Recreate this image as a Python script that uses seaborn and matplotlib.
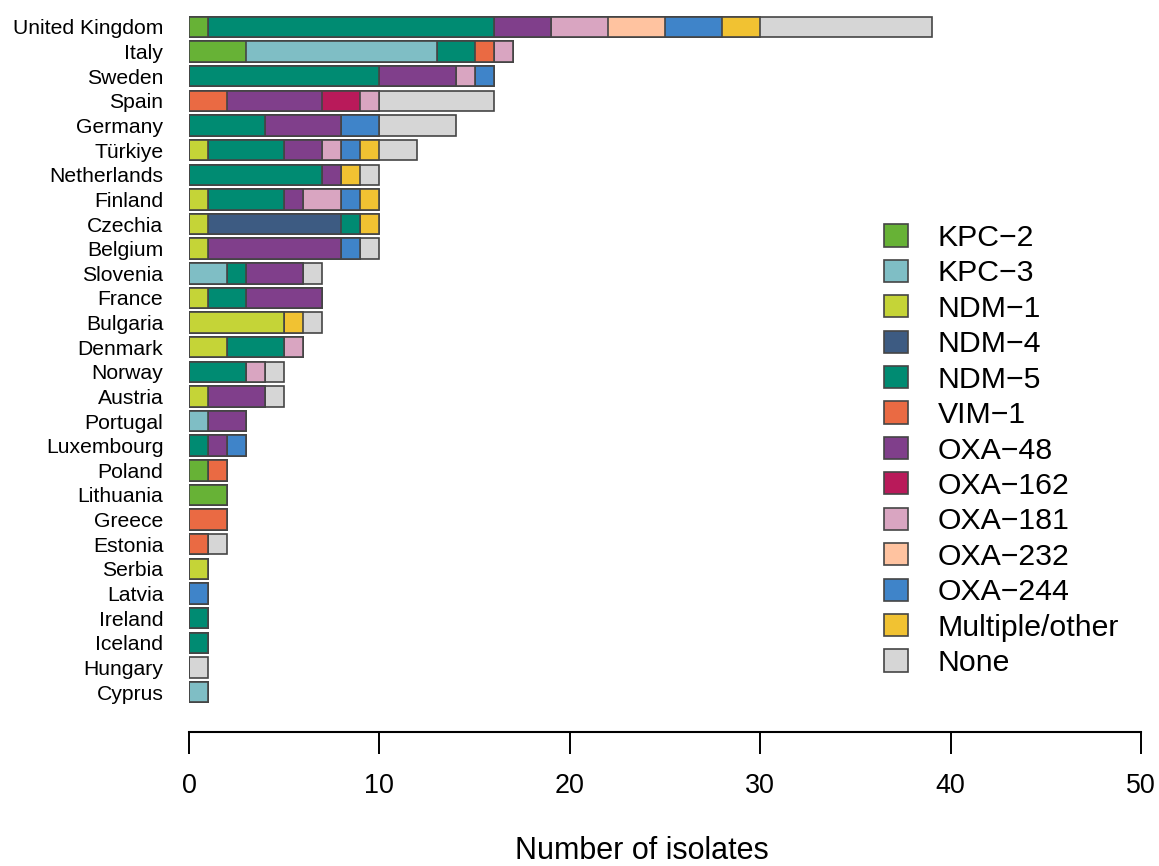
import numpy as np
import pandas as pd
import matplotlib
matplotlib.use("Agg")
import matplotlib.pyplot as plt
from matplotlib.patches import Patch
import seaborn as sns

countries = ["United Kingdom", "Italy", "Sweden", "Spain", "Germany", "Türkiye",
             "Netherlands", "Finland", "Czechia", "Belgium", "Slovenia", "France",
             "Bulgaria", "Denmark", "Norway", "Austria", "Portugal", "Luxembourg",
             "Poland", "Lithuania", "Greece", "Estonia", "Serbia", "Latvia",
             "Ireland", "Iceland", "Hungary", "Cyprus"]

types = ["KPC\u22122", "KPC\u22123", "NDM\u22121", "NDM\u22124", "NDM\u22125", "VIM\u22121",
         "OXA\u221248", "OXA\u2212162", "OXA\u2212181", "OXA\u2212232", "OXA\u2212244",
         "Multiple/other", "None"]

kpc2   = [1, 3, 0, 0, 0, 0, 0, 0, 0, 0, 0, 0, 0, 0, 0, 0, 0, 0, 1, 2, 0, 0, 0, 0, 0, 0, 0, 0]
kpc3   = [0, 10, 0, 0, 0, 0, 0, 0, 0, 0, 2, 0, 0, 0, 0, 0, 1, 0, 0, 0, 0, 0, 0, 0, 0, 0, 0, 1]
ndm1   = [0, 0, 0, 0, 0, 1, 0, 1, 1, 1, 0, 1, 5, 2, 0, 1, 0, 0, 0, 0, 0, 0, 1, 0, 0, 0, 0, 0]
ndm4   = [0, 0, 0, 0, 0, 0, 0, 0, 7, 0, 0, 0, 0, 0, 0, 0, 0, 0, 0, 0, 0, 0, 0, 0, 0, 0, 0, 0]
ndm5   = [15, 2, 10, 0, 4, 4, 7, 4, 1, 0, 1, 2, 0, 3, 3, 0, 0, 1, 0, 0, 0, 0, 0, 0, 1, 1, 0, 0]
vim1   = [0, 1, 0, 2, 0, 0, 0, 0, 0, 0, 0, 0, 0, 0, 0, 0, 0, 0, 1, 0, 2, 1, 0, 0, 0, 0, 0, 0]
oxa48  = [3, 0, 4, 5, 4, 2, 1, 1, 0, 7, 3, 4, 0, 0, 0, 3, 2, 1, 0, 0, 0, 0, 0, 0, 0, 0, 0, 0]
oxa162 = [0, 0, 0, 2, 0, 0, 0, 0, 0, 0, 0, 0, 0, 0, 0, 0, 0, 0, 0, 0, 0, 0, 0, 0, 0, 0, 0, 0]
oxa181 = [3, 1, 1, 1, 0, 1, 0, 2, 0, 0, 0, 0, 0, 1, 1, 0, 0, 0, 0, 0, 0, 0, 0, 0, 0, 0, 0, 0]
oxa232 = [3, 0, 0, 0, 0, 0, 0, 0, 0, 0, 0, 0, 0, 0, 0, 0, 0, 0, 0, 0, 0, 0, 0, 0, 0, 0, 0, 0]
oxa244 = [3, 0, 1, 0, 2, 1, 0, 1, 0, 1, 0, 0, 0, 0, 0, 0, 0, 1, 0, 0, 0, 0, 0, 1, 0, 0, 0, 0]
multi  = [2, 0, 0, 0, 0, 1, 1, 1, 1, 0, 0, 0, 1, 0, 0, 0, 0, 0, 0, 0, 0, 0, 0, 0, 0, 0, 0, 0]
none   = [9, 0, 0, 6, 4, 2, 1, 0, 0, 1, 1, 0, 1, 0, 1, 1, 0, 0, 0, 0, 0, 1, 0, 0, 0, 0, 1, 0]

colors = ["#67b236", "#7fbec5", "#c5d437", "#3d5b82", "#008b72", "#ea6a43",
          "#803f8b", "#b91a5a", "#d9a5c1", "#ffc3a0", "#3f84c9", "#f1c232", "#d6d6d6"]

series = [kpc2, kpc3, ndm1, ndm4, ndm5, vim1, oxa48, oxa162, oxa181, oxa232,
          oxa244, multi, none]

df = pd.DataFrame({t: s for t, s in zip(types, series)}, index=countries)
cum = df.cumsum(axis=1)

sns.set_style("white")
plt.rcParams["font.family"] = ["Liberation Sans", "DejaVu Sans"]
plt.rcParams["text.color"] = "black"
plt.rcParams["xtick.color"] = "black"
plt.rcParams["ytick.color"] = "black"
plt.rcParams["axes.labelcolor"] = "black"

fig = plt.figure(figsize=(11.59, 8.66), dpi=100)
ax = fig.add_axes([189 / 1159, 1 - 732 / 866, (1141 - 189) / 1159, (732 - 10) / 866])

edge = "#454545"
for t, c in reversed(list(zip(types, colors))):
    sns.barplot(x=cum[t].values, y=countries, orient="h", color=c, saturation=1,
                edgecolor=edge, linewidth=1.2, width=0.83, ax=ax)

n = len(countries)
ax.set_xlim(0, 50)
ax.set_ylim(n - 1 + 1.624, -0.69)
ax.set_xticks([0, 10, 20, 30, 40, 50])
for s in ["top", "right", "left"]:
    ax.spines[s].set_visible(False)
ax.spines["bottom"].set_linewidth(1.5)
ax.spines["bottom"].set_color("black")
ax.tick_params(axis="y", left=False, pad=15, labelsize=15.2, labelcolor="black")
ax.tick_params(axis="x", bottom=True, direction="out", length=15.8, width=1.4,
               color="black", pad=14, labelsize=19.4, labelcolor="black")
ax.set_xlabel("")
ax.set_ylabel("")

fig.text(642 / 1159, 1 - 859 / 866, "Number of isolates",
         ha="center", va="baseline", fontsize=22, color="black")

handles = [Patch(facecolor=c, edgecolor=edge, linewidth=1.2) for c in colors]
fig.legend(handles, types, loc="upper left", bbox_to_anchor=(884 / 1159, 1 - 224 / 866),
           frameon=False, fontsize=21.8, handlelength=0.8, handleheight=0.75,
           handletextpad=0.97, labelspacing=0.245, borderpad=0, borderaxespad=0,
           labelcolor="black")

fig.savefig("out.png", dpi=100)
